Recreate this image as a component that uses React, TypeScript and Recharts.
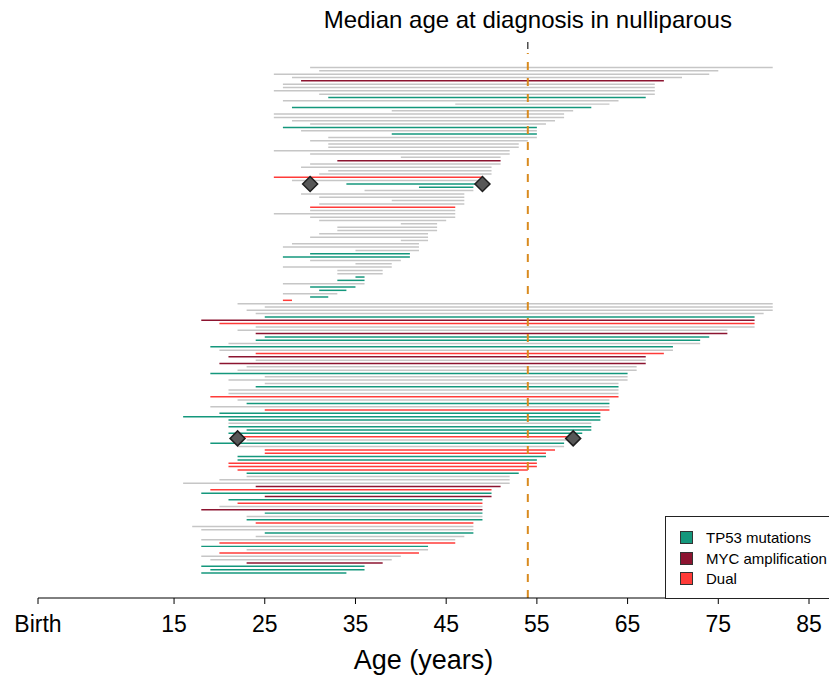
import {
  ComposedChart, Bar, Scatter, XAxis, YAxis, ReferenceLine, Legend, Cell,
} from 'recharts'

// g = no alteration, t = TP53 mutation, m = MYC amplification, d = dual
// Each group is ordered by the age at the end of the segment.
const nulliStart = [
  30, 31, 26, 28, 29, 27, 27, 26, 31, 32, 27, 46, 28, 39, 26, 26, 28, 30,
  27, 29, 39, 32, 30, 32, 32, 26, 30, 40, 33, 30, 29, 32, 31, 26, 28, 34,
  42, 36, 29, 31, 39, 31, 30, 30, 26, 30, 31, 40, 33, 33, 31, 30, 40, 28,
  27, 35, 30, 27, 30, 35, 27, 33, 33, 35, 33, 27, 30, 31, 27, 30, 27,
]
const nulliEnd = [
  81, 75, 74, 71, 69, 68, 68, 68, 68, 67, 64, 63, 61, 59, 58, 58, 57, 56,
  55, 55, 55, 55, 54, 53, 53, 52, 52, 51, 51, 51, 50, 50, 50, 49, 49, 49,
  48, 48, 47, 47, 47, 47, 46, 46, 46, 46, 45, 44, 44, 44, 43, 43, 43, 42,
  42, 42, 41, 41, 40, 39, 39, 38, 38, 36, 36, 36, 35, 34, 33, 32, 28,
]
const nulliType = [
  'g', 'g', 'g', 'g', 'm', 'g', 'g', 'g', 'g', 't', 'g', 'g', 't', 'g', 'g', 'g', 'g', 'g',
  't', 'g', 't', 'g', 'g', 'g', 'g', 'g', 'g', 'g', 'm', 'g', 'g', 'g', 'g', 'd', 'g', 't',
  't', 'g', 'g', 'g', 'g', 'g', 'd', 'g', 'g', 'g', 'g', 'g', 'g', 'g', 'g', 'g', 'g', 'g',
  'g', 'g', 't', 't', 'g', 'g', 'g', 'g', 'g', 't', 't', 'g', 't', 't', 'g', 't', 'd',
]

const parousStart = [
  22, 25, 23, 24, 25, 18, 20, 24, 22, 24, 25, 24, 21, 19, 20, 24, 21, 24, 20, 23,
  22, 19, 25, 21, 25, 24, 21, 21, 19, 22, 23, 19, 25, 20, 16, 21, 21, 21, 23, 21,
  22, 23, 19, 22, 25, 25, 22, 22, 21, 21, 22, 23, 23, 20, 16, 24, 19, 18, 25, 21,
  22, 20, 18, 25, 23, 23, 24, 17, 18, 25, 24, 18, 20, 18, 23, 20, 18, 19, 23, 18,
  19, 18,
]
const parousEnd = [
  81, 81, 81, 80, 79, 79, 79, 79, 76, 76, 74, 73, 73, 70, 70, 69, 67, 67, 67, 66,
  66, 65, 65, 65, 64, 64, 64, 64, 64, 63, 63, 63, 63, 62, 62, 62, 61, 61, 61, 60,
  59, 59, 58, 58, 57, 56, 56, 55, 55, 55, 54, 53, 52, 52, 52, 51, 50, 50, 50, 49,
  49, 49, 49, 49, 49, 49, 48, 48, 48, 48, 47, 46, 46, 43, 43, 42, 40, 39, 38, 36,
  36, 34,
]
const parousType = [
  'g', 'g', 'g', 'g', 't', 'm', 'd', 'g', 'g', 'm', 't', 't', 'g', 't', 'g', 'd', 'm', 'g', 'm', 'g',
  'g', 't', 'g', 'g', 'g', 't', 'g', 'g', 'd', 'g', 't', 'g', 'd', 't', 't', 't', 'g', 't', 't', 't',
  'd', 'g', 't', 'g', 'd', 'd', 't', 't', 'd', 'd', 'd', 't', 'g', 'g', 'g', 'm', 'd', 't', 'm', 't',
  'd', 'g', 'm', 't', 'g', 't', 'd', 'g', 'g', 't', 'g', 'g', 'd', 't', 'g', 'd', 'g', 'g', 'm', 't',
  't', 't',
]

// group medians (start, end), drawn as diamonds on the middle row of each group
const nulliMedian = [30, 49]
const parousMedian = [22, 59]
const medianDiagnosisAge = 54

const xTicks = [0, 15, 25, 35, 45, 55, 65, 75, 85]

const COLORS: Record<string, string> = {
  g: '#c6c6c6',
  t: '#14977c',
  m: '#8c1430',
  d: '#ff3b38',
}

const legendItems = [
  { label: 'TP53 mutations', color: COLORS.t },
  { label: 'MYC amplification', color: COLORS.m },
  { label: 'Dual', color: COLORS.d },
]

const rows = [
  ...nulliStart.map((s, i) => ({ span: [s, nulliEnd[i]], type: nulliType[i] })),
  ...parousStart.map((s, i) => ({ span: [s, parousEnd[i]], type: parousType[i] })),
].map((r, i) => ({ ...r, row: i }))

const nulliMid = (nulliStart.length - 1) / 2
const parousMid = nulliStart.length + (parousStart.length - 1) / 2
const medians = [
  ...nulliMedian.map(age => ({ row: nulliMid, age })),
  ...parousMedian.map(age => ({ row: parousMid, age })),
]

function Diamond(props: any) {
  const { cx, cy } = props
  const r = 7.5
  return (
    <path
      d={`M${cx},${cy - r}L${cx + r},${cy}L${cx},${cy + r}L${cx - r},${cy}Z`}
      fill="#575757"
      stroke="#1e1e1e"
      strokeWidth={1.5}
    />
  )
}

function MedianLabel(props: any) {
  const { x, y } = props.viewBox
  return (
    <g>
      <line x1={x} y1={y - 11} x2={x} y2={y - 4} stroke="#222" strokeWidth={1.2} />
      <text x={x} y={y - 25} textAnchor="middle" fontSize={24} fill="#000">
        Median age at diagnosis in nulliparous
      </text>
    </g>
  )
}

function LegendBox() {
  return (
    <div
      style={{
        boxSizing: 'border-box',
        width: 172,
        height: 83,
        borderLeft: '1px solid #222',
        borderTop: '1px solid #222',
        borderBottom: '1px solid #222',
        background: '#fff',
        paddingTop: 10,
        paddingLeft: 14,
      }}
    >
      {legendItems.map(item => (
        <div key={item.label} style={{ display: 'flex', alignItems: 'center', height: 20.8 }}>
          <span
            style={{
              display: 'inline-block',
              width: 11,
              height: 11,
              background: item.color,
              border: '1px solid #333',
              marginRight: 13,
            }}
          />
          <span style={{ fontSize: 15, color: '#000', whiteSpace: 'nowrap' }}>{item.label}</span>
        </div>
      ))}
    </div>
  )
}

export default function App() {
  // pull the chart into the body's top/left margin so it spans the whole page
  return (
    <div style={{ margin: '-8px 0 0 -8px', fontFamily: '"Liberation Sans", Arial, sans-serif' }}>
      <ComposedChart
        width={837}
        height={677}
        data={rows}
        layout="vertical"
        margin={{ top: 53, right: 28, bottom: 0, left: 38 }}
      >
        <XAxis
          type="number"
          domain={[0, 85]}
          ticks={xTicks}
          interval={0}
          tickFormatter={v => (v === 0 ? 'Birth' : String(v))}
          tick={{ fontSize: 23, fill: '#000' }}
          tickSize={6}
          tickMargin={12}
          stroke="#000"
          height={79}
          label={{ value: 'Age (years)', position: 'insideBottom', offset: 8, fontSize: 27, fill: '#000' }}
        />
        <YAxis type="number" dataKey="row" domain={[-4.4, 159.5]} hide />
        <Bar dataKey="span" barSize={2} isAnimationActive={false}>
          {rows.map(r => (
            <Cell key={r.row} fill={COLORS[r.type]} />
          ))}
        </Bar>
        <ReferenceLine
          x={medianDiagnosisAge}
          stroke="#d98b1f"
          strokeWidth={2}
          strokeDasharray="8 8"
          label={<MedianLabel />}
        />
        <Scatter data={medians} dataKey="age" shape={<Diamond />} isAnimationActive={false} />
        <Legend
          layout="vertical"
          align="center"
          verticalAlign="middle"
          wrapperStyle={{ left: 665, top: 516, width: 172, height: 83 }}
          content={() => <LegendBox />}
        />
      </ComposedChart>
    </div>
  )
}
